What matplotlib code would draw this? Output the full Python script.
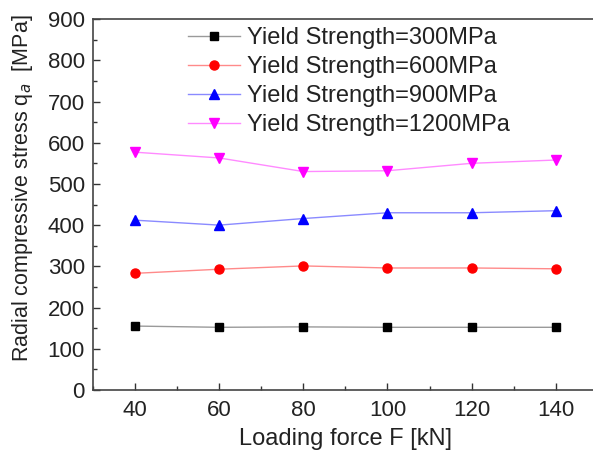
import matplotlib
matplotlib.use("Agg")
import matplotlib.pyplot as plt
from matplotlib.ticker import MultipleLocator

plt.rcParams['font.family'] = ['Liberation Sans', 'DejaVu Sans']

force = [40, 60, 80, 100, 120, 140]
ys300 = [155, 152, 153, 152, 152, 152]
ys600 = [283, 293, 301, 296, 296, 294]
ys900 = [412, 400, 416, 430, 430, 435]
ys1200 = [577, 563, 530, 532, 550, 558]

labels = ["Yield Strength=300MPa", "Yield Strength=600MPa",
          "Yield Strength=900MPa", "Yield Strength=1200MPa"]

fig = plt.figure(figsize=(5.93, 4.55), dpi=100)
ax = fig.add_axes([0.157, 0.143, 0.851, 0.815])

ax.plot(force, ys300, color="#9a9a9a", lw=1.0, marker="s", ms=5.5,
        mfc="black", mec="black", label=labels[0])
ax.plot(force, ys600, color="#ff8a8a", lw=1.0, marker="o", ms=6.5,
        mfc="red", mec="red", label=labels[1])
ax.plot(force, ys900, color="#8a8aff", lw=1.0, marker="^", ms=7.5,
        mfc="blue", mec="blue", label=labels[2])
ax.plot(force, ys1200, color="#ff8aff", lw=1.0, marker="v", ms=7.5,
        mfc="magenta", mec="magenta", label=labels[3])

ax.set_xlim(30, 150)
ax.set_ylim(0, 900)
ax.set_xticks(force)
ax.xaxis.set_minor_locator(MultipleLocator(10))
ax.yaxis.set_major_locator(MultipleLocator(100))
ax.yaxis.set_minor_locator(MultipleLocator(50))
ax.tick_params(which="both", direction="in", top=False, right=False,
               labelsize=16, color="#333333", labelcolor="#222222")
ax.tick_params(which="major", length=5, width=1, pad=6)
ax.tick_params(axis="x", which="major", pad=7)
ax.tick_params(which="minor", length=3, width=1)
for s in ax.spines.values():
    s.set_color("#444444")
    s.set_linewidth(1.2)

ax.set_xlabel("Loading force F [kN]", fontsize=17, labelpad=5, color="#222222")
ax.set_ylabel("Radial compressive stress q$_a$  [MPa]", fontsize=15.5,
              color="#222222")
ax.yaxis.set_label_coords(-0.115, 0.545)

fig.legend(loc="upper left", bbox_to_anchor=(188 / 593, 1 - 27 / 455),
           frameon=False, fontsize=17, handlelength=2.2, handletextpad=0.3,
           labelspacing=0.3, borderpad=0, borderaxespad=0,
           labelcolor="#222222")

fig.savefig("out.png", dpi=100)
